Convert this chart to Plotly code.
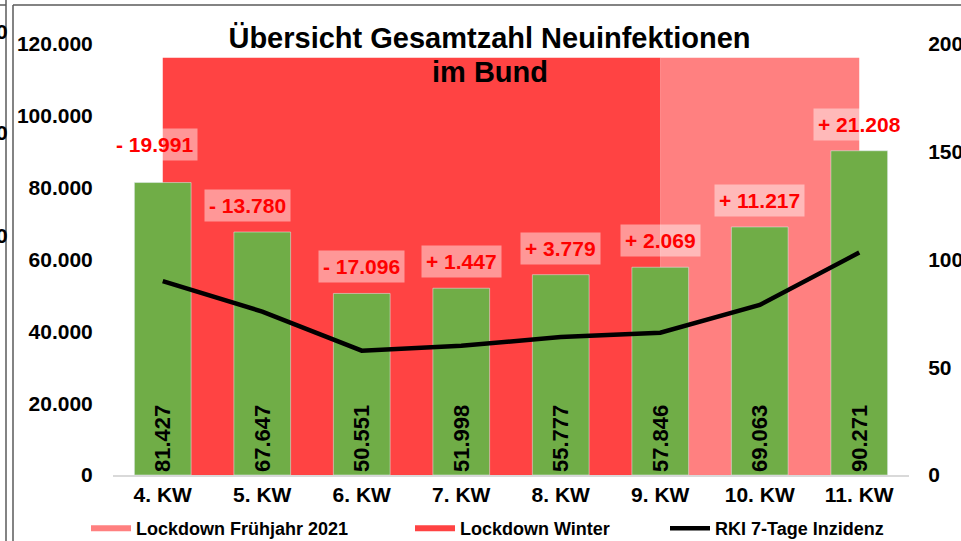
import plotly.graph_objects as go

# ---- data ----
weeks = ['4. KW', '5. KW', '6. KW', '7. KW', '8. KW', '9. KW', '10. KW', '11. KW']
cases = [81427, 67647, 50551, 51998, 55777, 57846, 69063, 90271]
changes = [-19991, -13780, -17096, 1447, 3779, 2069, 11217, 21208]
incidence = [90.0, 75.8, 57.7, 60.0, 64.0, 66.0, 78.9, 103.2]
winter_weeks = ['4. KW', '5. KW', '6. KW', '7. KW', '8. KW', '9. KW']
spring_weeks = ['9. KW', '10. KW', '11. KW']
shade_level = 116200
left_ticks = [0, 20000, 40000, 60000, 80000, 100000, 120000]
right_ticks = [0, 50, 100, 150, 200]
title_line1 = 'Übersicht Gesamtzahl Neuinfektionen'
title_line2 = 'im Bund'

FONT = "Liberation Sans, Arial, sans-serif"
W, H = 961, 541
ML, MR, MT, MB = 113, 52, 44, 66
PW, PH = W - ML - MR, H - MT - MB

def px_x(px):
    return (px - ML) / PW

def px_y(py):
    return (H - MB - py) / PH

def fmt_change(v):
    s = f"{abs(v):,d}".replace(",", ".")
    return ("+ " if v >= 0 else "- ") + s

fig = go.Figure()

fig.add_trace(go.Scatter(
    x=spring_weeks, y=[shade_level] * len(spring_weeks), mode='none',
    fill='tozeroy', fillcolor='#FF8080', name='Lockdown Frühjahr 2021',
    legend='legend', hoverinfo='skip'))
fig.add_trace(go.Scatter(
    x=winter_weeks, y=[shade_level] * len(winter_weeks), mode='none',
    fill='tozeroy', fillcolor='#FF4343', name='Lockdown Winter',
    legend='legend2', hoverinfo='skip'))

fig.add_trace(go.Bar(
    x=weeks, y=cases, yaxis='y2', marker_color='#70AD47', showlegend=False,
    texttemplate='%{y:,d}', textposition='inside', insidetextanchor='start',
    textangle=-90, textfont=dict(family=FONT, size=22, color='black', weight='bold'),
    cliponaxis=False))

fig.add_trace(go.Scatter(
    x=weeks, y=incidence, yaxis='y3', mode='lines',
    line=dict(color='black', width=4.5), name='RKI 7-Tage Inzidenz',
    legend='legend3'))

# change labels
xshifts = [-8, -15, 0, 0, 0, 0, 0, 0]
yshifts = [22, 10, 10, 10, 10, 10, 10, 10]
for i, (w, c, d) in enumerate(zip(weeks, cases, changes)):
    fig.add_annotation(
        x=w, y=c, xref='x', yref='y2', text=fmt_change(d), showarrow=False,
        yanchor='bottom', xshift=xshifts[i], yshift=yshifts[i],
        font=dict(family=FONT, size=21, color='#FF0000', weight='bold'),
        bgcolor='rgba(255,255,255,0.45)', borderpad=4)

# second title line
fig.add_annotation(x=px_x(489.5), y=px_y(72), xref='paper', yref='paper',
                   text=title_line2, showarrow=False, xanchor='center', yanchor='middle',
                   font=dict(family=FONT, size=29, color='black', weight='bold'))

# cropped neighbouring chart fragments at the left edge
for yy in [31, 133, 235]:
    fig.add_annotation(x=px_x(10), y=px_y(yy), xref='paper', yref='paper',
                       text='0', showarrow=False, xanchor='right', yanchor='middle',
                       font=dict(family=FONT, size=21, color='black', weight='bold'))

legend_common = dict(orientation='h', xref='container', yref='container',
                     yanchor='middle', y=1 - 528.5 / H, bgcolor='rgba(0,0,0,0)',
                     font=dict(family=FONT, size=18, color='black', weight='bold'),
                     itemwidth=40)

tickfont = dict(family=FONT, size=21, color='black', weight='bold')
line_style = dict(color='#5A5A5A', width=1.5)
fig.update_layout(
    width=W, height=H,
    margin=dict(l=ML, r=MR, t=MT, b=MB, autoexpand=False),
    paper_bgcolor='white', plot_bgcolor='white',
    separators=',.',
    bargap=0.43,
    title=dict(text=title_line1,
               x=489.5 / W, xanchor='center', xref='container',
               y=1 - 38 / H, yanchor='middle', yref='container',
               font=dict(family=FONT, size=29, color='black', weight='bold')),
    xaxis=dict(categoryorder='array', categoryarray=weeks, range=[-0.5, 7.5],
               showgrid=False, showline=True, linecolor='#D9D9D9', linewidth=2,
               ticks='', tickfont=tickfont, zeroline=False),
    yaxis=dict(range=[0, 120000], tickvals=left_ticks, tickformat=',d',
               showgrid=False, zeroline=False, ticks='outside', ticklen=15,
               tickcolor='rgba(0,0,0,0)', tickfont=tickfont),
    yaxis2=dict(range=[0, 120000], overlaying='y', visible=False),
    yaxis3=dict(range=[0, 200], overlaying='y', side='right', tickvals=right_ticks,
                showgrid=False, zeroline=False, ticks='outside', ticklen=14,
                tickcolor='rgba(0,0,0,0)', tickfont=tickfont),
    legend=dict(x=86 / W, **legend_common),
    legend2=dict(x=410 / W, **legend_common),
    legend3=dict(x=665 / W, **legend_common),
    shapes=[
        dict(type='line', xref='paper', yref='paper', x0=px_x(6), x1=px_x(6),
             y0=px_y(H + 5), y1=px_y(0), line=line_style),
        dict(type='line', xref='paper', yref='paper', x0=px_x(13), x1=px_x(13),
             y0=px_y(H + 5), y1=px_y(5), line=line_style),
        dict(type='line', xref='paper', yref='paper', x0=px_x(13), x1=px_x(W + 5),
             y0=px_y(5), y1=px_y(5), line=line_style),
        dict(type='line', xref='paper', yref='paper', x0=px_x(0), x1=px_x(6),
             y0=px_y(5), y1=px_y(5), line=line_style),
    ],
)

fig.write_html("out.html", config={'displayModeBar': False},
               post_script="document.body.style.margin='0';")
